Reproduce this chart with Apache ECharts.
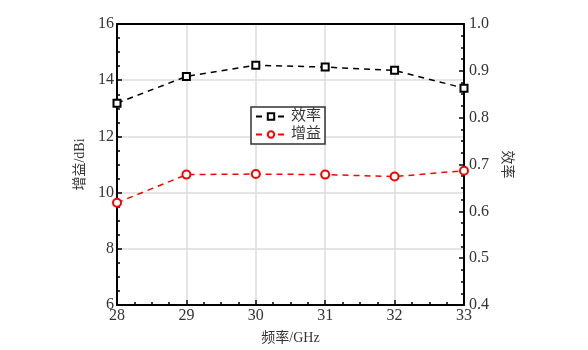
<!DOCTYPE html>
<html><head><meta charset="utf-8">
<script src="https://cdn.jsdelivr.net/npm/echarts@6/dist/echarts.min.js"></script>
<style>html,body{margin:0;padding:0;background:#fff}#c{width:588px;height:350px}</style>
</head><body><div id="c"></div>
<script>
const freqs = [28, 29, 30, 31, 32, 33];
const gain = [9.64, 10.64, 10.66, 10.64, 10.57, 10.78];
const efficiency = [0.831, 0.888, 0.912, 0.908, 0.901, 0.863];
const gainName = '增益';
const effName = '效率';

const FONT = '"Liberation Serif", "Noto Sans CJK SC", serif';
const labelStyle = {color: '#333', fontFamily: FONT, fontSize: 16};
const nameStyle = {color: '#333', fontFamily: FONT, fontSize: 14};
const chart = echarts.init(document.getElementById('c'), null, {renderer: 'canvas'});
chart.setOption({
  backgroundColor: '#fff',
  animation: false,
  grid: {left: 117, right: 124, top: 24, bottom: 45},
  legend: {
    left: 251, top: 107, orient: 'vertical',
    data: [effName, gainName],
    itemWidth: 30, itemHeight: 8, itemGap: 3,
    padding: [2, 4, 2, 4],
    borderColor: '#333', borderWidth: 1.5, backgroundColor: '#fff',
    textStyle: {fontFamily: FONT, fontSize: 15, color: '#333'}
  },
  xAxis: [{
    type: 'value', min: 28, max: 33, interval: 1,
    name: '频率/GHz', nameLocation: 'middle', nameGap: 26,
    nameTextStyle: nameStyle,
    axisLine: {show: true, lineStyle: {color: '#000', width: 2}},
    axisTick: {show: true, inside: true, length: 5, lineStyle: {color: '#000', width: 1.5}},
    minorTick: {show: true, splitNumber: 4, length: 3, lineStyle: {color: '#000', width: 1.5}},
    axisLabel: Object.assign({margin: 3}, labelStyle),
    splitLine: {show: true, lineStyle: {color: '#dcdcdc', width: 1.5}}
  }, {
    type: 'value', min: 28, max: 33, interval: 1, position: 'top', z: 10,
    axisLine: {show: true, onZero: false, lineStyle: {color: '#000', width: 2}},
    axisTick: {show: false}, axisLabel: {show: false}, splitLine: {show: false}
  }],
  yAxis: [{
    type: 'value', min: 6, max: 16, interval: 2,
    name: '增益/dBi', nameLocation: 'middle', nameGap: 25,
    nameTextStyle: nameStyle,
    axisLine: {show: true, lineStyle: {color: '#000', width: 2}},
    axisTick: {show: true, inside: true, length: 5, lineStyle: {color: '#000', width: 1.5}},
    minorTick: {show: true, splitNumber: 4, length: 3, lineStyle: {color: '#000', width: 1.5}},
    axisLabel: Object.assign({margin: 3}, labelStyle),
    splitLine: {show: true, lineStyle: {color: '#dcdcdc', width: 1.5}}
  }, {
    type: 'value', min: 0.4, max: 1.0, interval: 0.1, position: 'right',
    name: '效率', nameLocation: 'middle', nameGap: 34, nameRotate: -90,
    nameTextStyle: nameStyle,
    axisLine: {show: true, lineStyle: {color: '#000', width: 2}},
    axisTick: {show: true, inside: true, length: 5, lineStyle: {color: '#000', width: 1.5}},
    minorTick: {show: true, splitNumber: 4, length: 3, lineStyle: {color: '#000', width: 1.5}},
    axisLabel: Object.assign({margin: 5, formatter: v => v.toFixed(1)}, labelStyle),
    splitLine: {show: false}
  }],
  series: [{
    name: effName, type: 'line', xAxisIndex: 0, yAxisIndex: 1,
    data: freqs.map((f, i) => [f, efficiency[i]]),
    symbol: 'emptyRect', symbolSize: 7,
    itemStyle: {color: '#000', borderWidth: 1.2},
    lineStyle: {color: '#000', width: 1.5, type: [6, 5]}
  }, {
    name: gainName, type: 'line', xAxisIndex: 0, yAxisIndex: 0,
    data: freqs.map((f, i) => [f, gain[i]]),
    symbol: 'emptyCircle', symbolSize: 8,
    itemStyle: {color: '#ff0000', borderWidth: 1.2},
    lineStyle: {color: '#ff0000', width: 1.5, type: [6, 5]}
  }]
});
</script></body></html>
